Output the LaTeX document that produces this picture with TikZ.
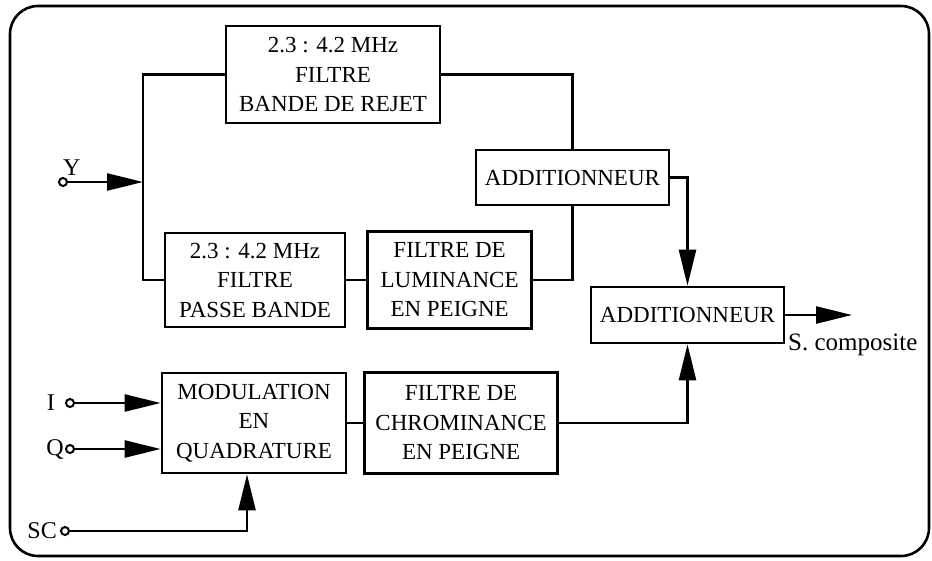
\documentclass[tikz,border=0pt]{standalone}
\usepackage{fontspec}
\setmainfont{Liberation Serif}
\usepackage{tikz}
\usetikzlibrary{arrows.meta,positioning,calc}

\begin{document}
\begin{tikzpicture}[x=1pt, y=-1pt, node distance=20pt,
        block/.style={rectangle, draw, line width=2.6pt, align=center, inner sep=0pt,
            font=\fontsize{23}{29.5}\selectfont},
        sig/.style={line width=2.4pt, -{Triangle[length=36pt, width=17pt]}},
        wire/.style={line width=2.4pt},
        port/.style={circle, draw, line width=2pt, inner sep=0pt, minimum size=8pt},
        lbl/.style={font=\fontsize{24}{28}\selectfont, inner sep=0pt}]

    \useasboundingbox (0,0) rectangle (932,560);
    \draw[line width=2.6pt, rounded corners=28pt] (10,6) rectangle (929,556);

    % luminance path
    \node[block, minimum width=214pt, minimum height=97pt] (reject) at (333,74.5)
        {2.3 : 4.2 MHz\\FILTRE\\BANDE DE REJET};
    \node[block, minimum width=180pt, minimum height=94pt] (pass) at (255,280)
        {2.3 : 4.2 MHz\\FILTRE\\PASSE BANDE};
    \node[block, minimum width=164pt, minimum height=97pt, right=of pass] (lum)
        {FILTRE DE\\LUMINANCE\\EN PEIGNE};
    \node[block, minimum width=193pt, minimum height=55pt] (add1) at (572.5,177.5) {ADDITIONNEUR};
    \node[block, minimum width=193pt, minimum height=56pt] (add2) at (687.5,315) {ADDITIONNEUR};

    % chrominance path
    \node[block, minimum width=184pt, minimum height=100pt] (mod) at (254,423)
        {MODULATION\\EN\\QUADRATURE};
    \node[block, minimum width=193pt, minimum height=101pt, right=16pt of mod] (chroma)
        {FILTRE DE\\CHROMINANCE\\EN PEIGNE};

    % inputs
    \node[port] (yin) at (63,182) {};
    \node[lbl, above right=1pt and 0pt of yin.north] (ylbl) {Y};
    \coordinate (yj) at (143,182);
    \node[port] (iin) at (70,403) {};
    \node[lbl, left=10pt of iin] (ilbl) {I};
    \node[port] (qin) at (70,449) {};
    \node[lbl, left=1pt of qin] (qlbl) {Q};
    \node[port] (scin) at (65,531) {};
    \node[lbl, left=3pt of scin] (sclbl) {SC};

    % output
    \coordinate (out) at (852,315);
    \node[lbl, anchor=north west, font=\fontsize{25}{28}\selectfont] (outlbl) at (788,334) {S. composite};

    % connections
    \draw[sig] (yin) -- (yj);
    \draw[wire] (reject.west) -| (yj) |- (pass.west);
    \draw[wire] (pass.east) -- (lum.west);
    \draw[wire] (reject.east) -| (add1.north);
    \draw[wire] (lum.east) -| (add1.south);
    \draw[sig] (add1.east) -| (add2.north);
    \draw[sig] (add2.east) -- (out);
    \draw[sig] (iin) -- (iin -| mod.west);
    \draw[sig] (qin) -- (qin -| mod.west);
    \draw[sig] (scin) -| ([xshift=-7pt]mod.south);
    \draw[wire] (mod.east) -- (chroma.west);
    \draw[sig] (chroma.east) -| (add2.south);

\end{tikzpicture}
\end{document}
